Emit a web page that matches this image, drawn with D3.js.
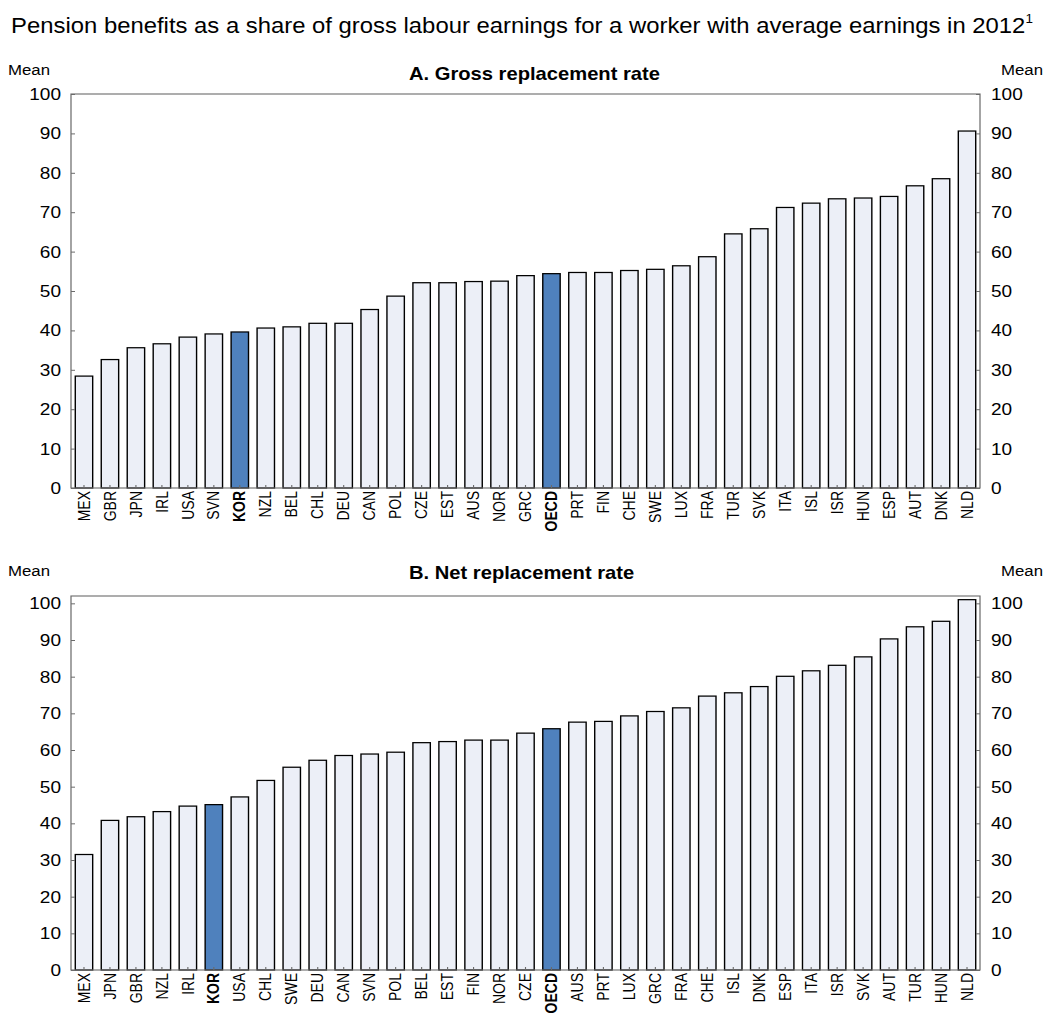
<!DOCTYPE html>
<html><head><meta charset="utf-8">
<script src="https://cdn.jsdelivr.net/npm/d3@7"></script>
<style>
body{margin:0;background:#fff;}
text{font-family:"Liberation Sans",Arial,sans-serif;fill:#000;}
</style></head>
<body>
<svg id="chart" width="1047" height="1021"></svg>
<script>
const titleText = "Pension benefits as a share of gross labour earnings for a worker with average earnings in 2012";
const titleNote = "1";
const axisLabel = "Mean";
const highlight = ["KOR", "OECD"];

const grossTitle = "A. Gross replacement rate";
const grossCountries = ["MEX","GBR","JPN","IRL","USA","SVN","KOR","NZL","BEL","CHL","DEU","CAN","POL","CZE","EST","AUS","NOR","GRC","OECD","PRT","FIN","CHE","SWE","LUX","FRA","TUR","SVK","ITA","ISL","ISR","HUN","ESP","AUT","DNK","NLD"];
const grossValues = [28.4,32.6,35.6,36.6,38.3,39.1,39.6,40.6,40.9,41.8,41.8,45.3,48.7,52.1,52.1,52.4,52.5,53.9,54.4,54.7,54.7,55.2,55.5,56.4,58.7,64.5,65.8,71.2,72.3,73.4,73.6,74.0,76.7,78.5,90.6];
const grossTicks = [0,10,20,30,40,50,60,70,80,90,100];

const netTitle = "B. Net replacement rate";
const netCountries = ["MEX","JPN","GBR","NZL","IRL","KOR","USA","CHL","SWE","DEU","CAN","SVN","POL","BEL","EST","FIN","NOR","CZE","OECD","AUS","PRT","LUX","GRC","FRA","CHE","ISL","DNK","ESP","ITA","ISR","SVK","AUT","TUR","HUN","NLD"];
const netValues = [31.5,40.8,41.8,43.2,44.7,45.1,47.2,51.7,55.3,57.2,58.5,58.9,59.4,62.0,62.3,62.7,62.7,64.6,65.8,67.6,67.8,69.3,70.5,71.5,74.7,75.6,77.3,80.1,81.6,83.1,85.4,90.3,93.6,95.1,101.0];
const netTicks = [0,10,20,30,40,50,60,70,80,90,100];

// the reference is slightly stretched horizontally; draw in a virtual space and stretch
const SX = 1.12;
const root = d3.select("#chart").append("g").attr("transform", `scale(${SX},1)`);

// main title
const t = root.append("text").attr("x", 522 / SX).attr("y", 33)
  .attr("text-anchor", "middle").style("font-size", "21.3px");
t.append("tspan").text(titleText);
t.append("tspan").attr("dy", -10).style("font-size", "12px").text(titleNote);

function panel(cfg) {
  const left = 71 / SX, right = 980 / SX;
  const x = d3.scaleBand().domain(cfg.cats).range([left, right]).paddingInner(0.33).paddingOuter(0.165);
  const y = d3.scaleLinear().domain([0, cfg.ymax]).range([cfg.bottom, cfg.top]);
  const g = root.append("g");

  // panel title and "Mean" labels
  g.append("text").attr("x", 409 / SX).attr("y", cfg.titleY)
    .style("font-size", "18px").style("font-weight", "bold").text(cfg.title);
  g.append("text").attr("x", 8 / SX).attr("y", cfg.meanY).style("font-size", "15px").text(axisLabel);
  g.append("text").attr("x", 1043 / SX).attr("y", cfg.meanY).attr("text-anchor", "end").style("font-size", "15px").text(axisLabel);

  // bars
  g.selectAll("rect.bar").data(cfg.cats).enter().append("rect")
    .attr("class", "bar")
    .attr("x", d => x(d))
    .attr("width", x.bandwidth())
    .attr("y", (d, i) => y(cfg.vals[i]))
    .attr("height", (d, i) => y(0) - y(cfg.vals[i]))
    .attr("fill", d => highlight.includes(d) ? "#4F81BD" : "#ECEFF7")
    .attr("stroke", "#000").attr("stroke-width", 1.25);

  // frame
  g.append("rect").attr("x", left).attr("y", cfg.top)
    .attr("width", right - left).attr("height", cfg.bottom - cfg.top)
    .attr("fill", "none").attr("stroke", "#6b6b6b").attr("stroke-width", 1.1);

  // y axes (ticks inward)
  const yl = g.append("g").attr("transform", `translate(${left},0)`)
    .call(d3.axisRight(y).tickValues(cfg.ticks).tickSize(4 / SX).tickFormat(d3.format("d")));
  yl.select(".domain").remove();
  yl.selectAll("line").attr("stroke", "#6b6b6b");
  yl.selectAll("text").attr("x", -10 / SX).attr("text-anchor", "end").style("font-size", "17px").attr("fill", "#000");
  const yr = g.append("g").attr("transform", `translate(${right},0)`)
    .call(d3.axisLeft(y).tickValues(cfg.ticks).tickSize(4 / SX).tickFormat(d3.format("d")));
  yr.select(".domain").remove();
  yr.selectAll("line").attr("stroke", "#6b6b6b");
  yr.selectAll("text").attr("x", 11 / SX).attr("text-anchor", "start").style("font-size", "17px").attr("fill", "#000");
  [yl, yr].forEach(a => a.attr("font-family", null).attr("font-size", null));

  // x axis (ticks inward) and rotated labels
  const xa = g.append("g").attr("transform", `translate(0,${cfg.bottom})`)
    .call(d3.axisTop(x).tickSize(3).tickFormat(""));
  xa.select(".domain").remove();
  xa.selectAll("line").attr("stroke", "#6b6b6b");
  g.selectAll("text.xl").data(cfg.cats).enter().append("text")
    .attr("class", "xl")
    .attr("transform", d => `translate(${x(d) + x.bandwidth() / 2},${cfg.bottom + 3}) rotate(-90)`)
    .attr("dy", "0.36em")
    .attr("text-anchor", "end")
    .style("font-size", "14px")
    .style("font-weight", d => highlight.includes(d) ? "bold" : "normal")
    .text(d => d);
}

panel({cats: grossCountries, vals: grossValues, ticks: grossTicks, ymax: 100, title: grossTitle,
  top: 94, bottom: 488, titleY: 80, meanY: 75});
panel({cats: netCountries, vals: netValues, ticks: netTicks, ymax: 102, title: netTitle,
  top: 596, bottom: 970, titleY: 579, meanY: 576});
</script>
</body></html>
